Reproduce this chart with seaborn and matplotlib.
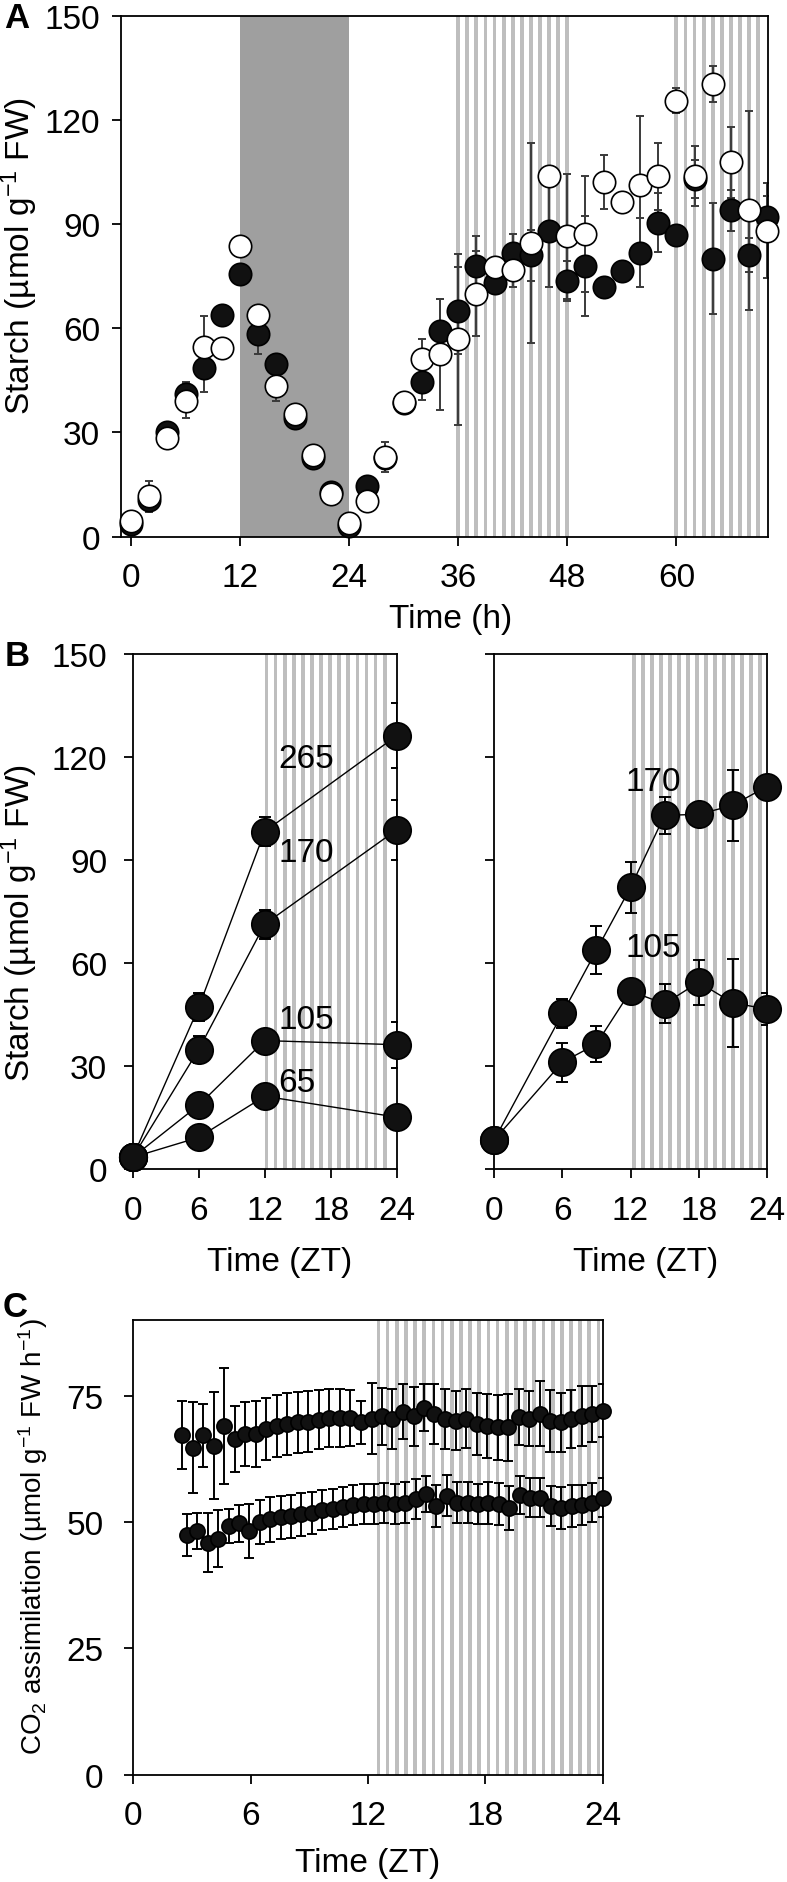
import numpy as np
import pandas as pd
import seaborn as sns
import matplotlib.pyplot as plt

# ---------------- data ----------------
# panel A: starch time course, two genotypes (filled / open symbols)
time_a = [0, 2, 4, 6, 8, 10, 12, 14, 16, 18, 20, 22, 24, 26, 28, 30, 32, 34,
          36, 38, 40, 42, 44, 46, 48, 50, 52, 54, 56, 58, 60, 62, 64, 66, 68, 70]
starch_filled = [3.6, 10.5, 30.2, 41.2, 48.7, 63.8, 75.7, 58.5, 49.7, 34.3, 22.5, 12.9,
                 3.1, 14.6, 22.5, 38.5, 44.5, 59.2, 65.1, 77.9, 73.1, 81.8, 81.0, 88.0,
                 73.6, 77.9, 71.8, 76.5, 81.8, 90.4, 87.0, 103.0, 80.1, 94.0, 81.1, 92.1]
sd_filled = [0, 0, 1, 3.3, 7, 0, 0, 5.8, 0, 0, 0, 0,
             0, 0, 0, 0, 5.2, 9.3, 12.6, 8.8, 2, 5.5, 7.4, 16,
             5.7, 14.4, 0, 0, 10, 8.5, 0, 5.5, 16, 5.8, 5, 6]
starch_open = [4.4, 11.6, 28.5, 39.1, 54.6, 54.3, 83.7, 63.8, 43.5, 35.3, 23.4, 12.2,
               3.8, 10.3, 23.0, 38.9, 51.3, 52.5, 56.8, 70.0, 77.7, 76.7, 84.7, 103.8,
               86.5, 87.2, 102.2, 96.3, 101.4, 103.8, 125.6, 104.0, 130.4, 107.9, 94.0, 88.2]
sd_open = [0, 4.4, 0, 5, 9, 0, 0, 0, 4.4, 0, 0, 0,
           0, 0, 4.3, 0, 5.6, 15.9, 24.7, 12.3, 0, 4.7, 28.8, 0,
           18, 16.6, 7.7, 0, 19.8, 9.7, 3.6, 8.7, 5.2, 10.2, 28.7, 13.8]
dark_a = (12, 24)
striped_a = [(36, 48), (60, 69)]

# panel B left: four light intensities
time_bl = [0, 6, 12, 24]
starch_265 = [3.4, 47.1, 98.3, 126.2]
sd_265 = [0, 4.1, 4.2, 9.5]
starch_170l = [3.4, 34.8, 71.3, 98.8]
sd_170l = [0, 3.8, 4.2, 8.8]
starch_105l = [3.4, 18.6, 37.4, 36.2]
sd_105l = [0, 1.5, 2.5, 6.7]
starch_65 = [3.4, 9.2, 21.2, 15.1]
sd_65 = [0, 1.0, 1.5, 1.5]
labels_bl = ['265', '170', '105', '65']

# panel B right
time_br = [0, 6, 9, 12, 15, 18, 21, 24]
starch_170r = [8.5, 45.3, 63.7, 82.0, 103.0, 103.3, 105.9, 111.4]
sd_170r = [0, 4.2, 7.0, 7.4, 5.3, 1.5, 10.3, 2.0]
starch_105r = [8.5, 31.1, 36.4, 51.8, 48.1, 54.4, 48.4, 46.6]
sd_105r = [0, 5.7, 5.3, 2.0, 5.7, 6.5, 12.8, 4.6]
labels_br = ['170', '105']

# panel C: CO2 assimilation
time_c_hi = [2.5, 3.04, 3.58, 4.11, 4.65, 5.19, 5.73, 6.26, 6.8, 7.34, 7.88, 8.41, 8.95,
             9.49, 10.03, 10.56, 11.1, 11.64, 12.18, 12.71, 13.25, 13.79, 14.33, 14.86,
             15.4, 15.94, 16.48, 17.01, 17.55, 18.09, 18.63, 19.16, 19.7, 20.24, 20.78,
             21.31, 21.85, 22.39, 22.93, 23.46, 24.0]
co2_hi = [67.2, 64.7, 67.1, 65.1, 69.0, 66.4, 67.4, 67.4, 68.4, 69.0,
          69.4, 69.7, 69.8, 70.2, 70.6, 70.6, 70.6, 69.7, 70.4, 70.9,
          70.4, 71.8, 70.9, 72.6, 71.4, 70.4, 70.0, 70.4, 69.4, 69.0,
          68.7, 68.7, 70.7, 70.4, 71.4, 70.0, 69.7, 70.4, 71.0, 71.4, 72.0]
sd_co2_hi = [6.8, 9.0, 6.2, 10.6, 11.4, 6.6, 6.3, 6.5, 6.1, 6.1,
             6.1, 6.0, 6.0, 5.8, 5.7, 5.7, 5.5, 4.3, 7.0, 5.6,
             5.9, 5.4, 5.8, 4.6, 5.9, 5.9, 5.8, 5.8, 6.2, 6.3,
             6.5, 6.6, 5.5, 5.4, 6.4, 6.1, 5.9, 5.7, 5.9, 5.5, 5.2]
time_c_lo = [2.75, 3.28, 3.81, 4.34, 4.88, 5.41, 5.94, 6.47, 7.0, 7.53, 8.06, 8.59, 9.13,
             9.66, 10.19, 10.72, 11.25, 11.78, 12.31, 12.84, 13.38, 13.91, 14.44, 14.97,
             15.5, 16.03, 16.56, 17.09, 17.63, 18.16, 18.69, 19.22, 19.75, 20.28, 20.81,
             21.34, 21.88, 22.41, 22.94, 23.47, 24.0]
co2_lo = [47.4, 48.2, 45.9, 46.7, 49.2, 49.7, 48.2, 50.0, 50.5, 50.9,
          51.1, 51.5, 51.8, 52.4, 52.6, 53.0, 53.3, 53.5, 53.5, 53.7,
          53.5, 53.8, 54.5, 55.5, 53.2, 55.2, 53.8, 53.8, 53.5, 53.7,
          53.5, 52.8, 55.3, 54.8, 54.8, 53.2, 52.8, 53.2, 53.4, 53.8, 54.8]
sd_co2_lo = [4.2, 3.6, 5.9, 5.7, 3.4, 3.6, 5.4, 4.4, 4.4, 4.3,
             4.3, 4.2, 4.2, 4.0, 4.0, 4.0, 4.0, 4.0, 4.0, 4.0,
             4.0, 4.0, 4.0, 3.5, 4.2, 4.0, 4.0, 4.0, 4.0, 4.2,
             4.2, 4.4, 3.7, 3.8, 3.8, 4.0, 4.2, 4.2, 4.0, 3.9, 3.8]

# ---------------- style ----------------
sns.set_theme(style='ticks')
plt.rcParams['font.family'] = ['Liberation Sans', 'DejaVu Sans']
plt.rcParams['mathtext.fontset'] = 'custom'
plt.rcParams['mathtext.rm'] = 'Liberation Sans'
plt.rcParams['mathtext.it'] = 'Liberation Sans:italic'
plt.rcParams['mathtext.bf'] = 'Liberation Sans:bold'
plt.rcParams['text.color'] = 'black'

W, H = 787, 1883
FS = 24
STRIPE = '#bebebe'
fig = plt.figure(figsize=(W / 100, H / 100), dpi=100)


def axes_px(l, r, t, b):
    return fig.add_axes([l / W, 1 - b / H, (r - l) / W, (b - t) / H])


def text_px(x, y, s, **kw):
    fig.text(x / W, 1 - y / H, s, ha='center', va='center', color='black', **kw)


def style(ax, ypad):
    for sp in ax.spines.values():
        sp.set_linewidth(1.3)
        sp.set_color('black')
    ax.tick_params(direction='out', length=6.5, width=1.3, labelsize=FS, colors='black')
    ax.tick_params(axis='x', pad=12)
    ax.tick_params(axis='y', pad=ypad)
    ax.set_xlabel('')
    ax.set_ylabel('')


def stripes(ax, start, end, step, width):
    for x in np.arange(start, end + 1e-6, step):
        ax.axvspan(x - width / 2, x + width / 2, color=STRIPE, lw=0, zorder=0)


def dots(ax, x, y, size, fill, z):
    sns.scatterplot(x=x, y=y, ax=ax, s=size, color=fill, edgecolor='black',
                    linewidth=1.2, zorder=z, clip_on=False, legend=False)


# ---------------- panel A ----------------
ax = axes_px(121, 767.7, 17.1, 537.5)
ax.axvspan(*dark_a, color='#9f9f9f', lw=0, zorder=0)
for a, b in striped_a:
    stripes(ax, a, b, 1.0, 0.42)
for y, e in [(starch_filled, sd_filled), (starch_open, sd_open)]:
    ax.errorbar(time_a, y, yerr=e, fmt='none', ecolor='#3a3a3a', elinewidth=1.4,
                capsize=2.6, capthick=1.4, zorder=2)
dots(ax, time_a, starch_filled, 260, '#111111', 3)
dots(ax, time_a, starch_open, 260, 'white', 4)
ax.set_xlim(-1.1, 70.05)
ax.set_ylim(0, 150)
ax.set_xticks([0, 12, 24, 36, 48, 60])
ax.set_yticks([0, 30, 60, 90, 120, 150])
style(ax, 8.5)
text_px(17, 19, 'A', fontsize=25, fontweight='bold')
text_px(19, 256, 'Starch (µmol g$^{-1}$ FW)', fontsize=FS, rotation=90)
text_px(451, 620, 'Time (h)', fontsize=FS)

# ---------------- panel B ----------------
axl = axes_px(132.7, 396.7, 655, 1170)
axr = axes_px(494.3, 766.7, 655, 1170)
stripes(axl, 12.16, 23.7, 0.827, 0.34)
stripes(axr, 12.32, 23.5, 0.79, 0.33)

for ax, t, series, labels, lpos in [
        (axl, time_bl, [(starch_265, sd_265), (starch_170l, sd_170l),
                        (starch_105l, sd_105l), (starch_65, sd_65)],
         labels_bl, [(15.8, 119.5), (15.8, 92.2), (15.8, 43.6), (14.9, 25.2)]),
        (axr, time_br, [(starch_170r, sd_170r), (starch_105r, sd_105r)],
         labels_br, [(14.0, 112.8), (14.0, 64.4)])]:
    for (y, e), lab, (lx, ly) in zip(series, labels, lpos):
        sns.lineplot(x=t, y=y, ax=ax, color='black', linewidth=1.0, zorder=2, sort=False)
        ax.errorbar(t, y, yerr=e, fmt='none', ecolor='black', elinewidth=1.4,
                    capsize=4.5, capthick=1.4, zorder=2)
        dots(ax, t, y, 390, '#111111', 3)
        ax.text(lx, ly, lab, fontsize=FS, ha='center', va='center', color='black', zorder=5)
    ax.set_xlim(0, 24)
    ax.set_ylim(0, 150)
    ax.set_xticks([0, 6, 12, 18, 24])
    ax.set_yticks([0, 30, 60, 90, 120, 150])
    style(ax, 12)
axr.tick_params(labelleft=False)
text_px(17, 657, 'B', fontsize=25, fontweight='bold')
text_px(19, 923, 'Starch (µmol g$^{-1}$ FW)', fontsize=FS, rotation=90)
text_px(280, 1263, 'Time (ZT)', fontsize=FS)
text_px(646, 1263, 'Time (ZT)', fontsize=FS)

# ---------------- panel C ----------------
ax = axes_px(133.3, 602.7, 1320.7, 1775.7)
stripes(ax, 12.53, 23.8, 0.469, 0.19)
for t, y, e in [(time_c_hi, co2_hi, sd_co2_hi), (time_c_lo, co2_lo, sd_co2_lo)]:
    ax.errorbar(t, y, yerr=e, fmt='none', ecolor='black', elinewidth=1.4,
                capsize=3.6, capthick=1.4, zorder=2)
    dots(ax, t, y, 120, '#111111', 3)
ax.set_xlim(0, 24)
ax.set_ylim(0, 90)
ax.set_xticks([0, 6, 12, 18, 24])
ax.set_yticks([0, 25, 50, 75])
style(ax, 15)
text_px(15, 1308, 'C', fontsize=25, fontweight='bold')
text_px(33, 1537, 'CO$_2$ assimilation (µmol g$^{-1}$ FW h$^{-1}$)', fontsize=20, rotation=90)
text_px(368, 1864, 'Time (ZT)', fontsize=FS)

fig.savefig('out.png', dpi=100)
